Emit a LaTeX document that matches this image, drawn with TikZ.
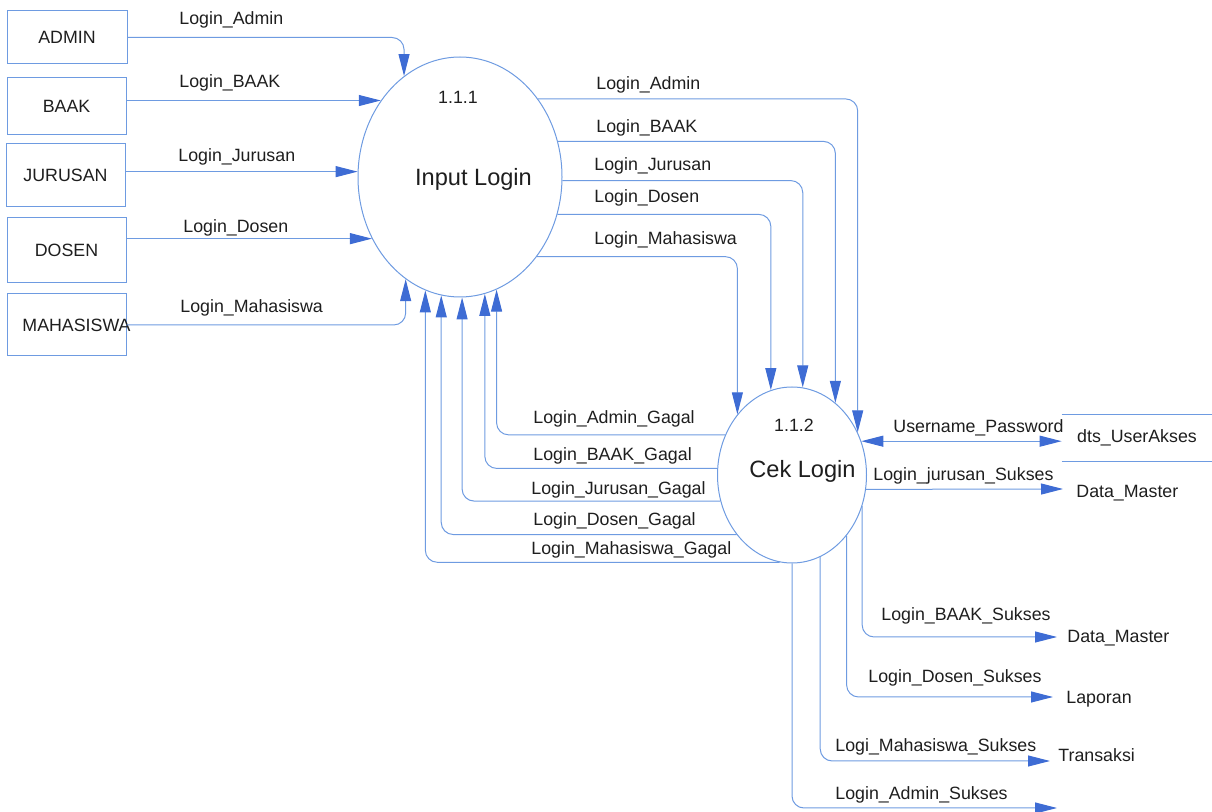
\documentclass[tikz,border=0pt]{standalone}
\usepackage{fontspec}
\setmainfont{Liberation Sans}
\usetikzlibrary{arrows.meta,shapes.geometric}
\definecolor{flowline}{RGB}{110,155,225}
\definecolor{flowtip}{RGB}{62,108,212}
\definecolor{inktext}{RGB}{30,30,30}
\begin{document}
\begin{tikzpicture}[x=0.5pt,y=-0.5pt,
  every node/.style={text=inktext, font=\fontsize{8.9pt}{10pt}\selectfont},
  entity/.style={draw=flowline, line width=0.5pt, rectangle, inner sep=0pt},
  proc/.style={draw=flowline, line width=0.5pt, ellipse, inner sep=0pt},
  lbl/.style={anchor=west, inner sep=0pt},
  ptext/.style={inner sep=0pt, font=\fontsize{11.8pt}{14pt}\selectfont},
  flow/.style={draw=flowline, line width=0.5pt, rounded corners=6pt, -{Triangle[length=11pt,width=5.5pt,color=flowtip]}},
  bflow/.style={draw=flowline, line width=0.5pt, {Triangle[length=11pt,width=5.5pt,color=flowtip]}-{Triangle[length=11pt,width=5.5pt,color=flowtip]}},
  storeline/.style={draw=flowline, line width=0.5pt},
]
\useasboundingbox (0,0) rectangle (1212,812);

% external entities
\node[entity, minimum width=60pt, minimum height=26.5pt] (admin) at (67,37.5) {ADMIN};
\node[entity, minimum width=59.5pt, minimum height=28.5pt] (baak) at (66.5,106.5) {BAAK};
\node[entity, minimum width=59.5pt, minimum height=31.5pt] (jur) at (65.5,175.5) {JURUSAN};
\node[entity, minimum width=59.5pt, minimum height=32.5pt] (dos) at (66.5,250.5) {DOSEN};
\node[entity, minimum width=59.5pt, minimum height=31pt,
      label={[xshift=5pt, inner sep=0pt]center:MAHASISWA}] (mhs) at (66.5,325) {};

% processes
\node[proc, minimum width=102pt, minimum height=120pt] (il) at (460,177) {};
\node[ptext, font=\fontsize{8.9pt}{10pt}\selectfont] (ilnum) at (458,97.5) {1.1.1};
\node[ptext] (ilname) at (473.5,179) {Input Login};

\node[proc, minimum width=74.5pt, minimum height=88pt] (cek) at (792,475) {};
\node[ptext, font=\fontsize{8.9pt}{10pt}\selectfont] (ceknum) at (794,425) {1.1.2};
\node[ptext] (cekname) at (802.5,471.5) {Cek Login};

% data store and destinations
\node[inner sep=0pt, minimum width=75pt, minimum height=23pt] (ua) at (1137,438) {dts\_UserAkses};
\draw[storeline] (ua.north west) -- (ua.north east);
\draw[storeline] (ua.south west) -- (ua.south east);
\node[lbl] (dm1) at (1076,493.5) {Data\_Master};
\node[lbl] (dm2) at (1067,638.5) {Data\_Master};
\node[lbl] (lap) at (1066,699.5) {Laporan};
\node[lbl] (trx) at (1058,755.5) {Transaksi};

\coordinate (tipJur) at (1063,489);
\coordinate (tipBaak) at (1057,637);
\coordinate (tipDos) at (1053,697);
\coordinate (tipMhs) at (1050,761);
\coordinate (tipAdm) at (1057,808);

% entities -> Input Login
\draw[flow] (admin.east) -| (il.119.8);
\draw[flow] (il.136.7 -| baak.east) -- (il.136.7);
\draw[flow] (il.177.8 -| jur.east) -- (il.177.8);
\draw[flow] (il.215.4 -| dos.east) -- (il.215.4);
\draw[flow] (mhs.east) -| (il.242.05);

\node[lbl] at (179,19.5) {Login\_Admin};
\node[lbl] at (179,83) {Login\_BAAK};
\node[lbl] at (178,156.5) {Login\_Jurusan};
\node[lbl] at (183,227.5) {Login\_Dosen};
\node[lbl] at (180,308) {Login\_Mahasiswa};

% Input Login -> Cek Login
\draw[flow] (il.45.8) -| (cek.33.5);
\draw[flow] (il.20.3) -| (cek.59.1);
\draw[flow] (il.358.3) -| (cek.83.5);
\draw[flow] (il.339.1) -| (cek.104.7);
\draw[flow] (il.314.8) -| (cek.132.8);

\node[lbl] at (596,84.5) {Login\_Admin};
\node[lbl] at (596,127.5) {Login\_BAAK};
\node[lbl] at (594,166) {Login\_Jurusan};
\node[lbl] at (594,197.5) {Login\_Dosen};
\node[lbl] at (594,240) {Login\_Mahasiswa};

% Cek Login -> Input Login (failed logins)
\draw[flow] (cek.149.7) -| (il.288.3);
\draw[flow] (cek.175.4) -| (il.282.1);
\draw[flow] (cek.200.06) -| (il.271.9);
\draw[flow] (cek.227.75) -| (il.261.3);
\draw[flow] (cek.262.6) -| (il.253.8);

\node[lbl] at (533,419) {Login\_Admin\_Gagal};
\node[lbl] at (533,456) {Login\_BAAK\_Gagal};
\node[lbl] at (531,489.5) {Login\_Jurusan\_Gagal};
\node[lbl] at (533,521) {Login\_Dosen\_Gagal};
\node[lbl] at (531,549.5) {Login\_Mahasiswa\_Gagal};

% Cek Login <-> user access store
\draw[bflow] (cek.26.3) -- (cek.26.3 -| ua.west);
\node[lbl] at (893,428) {Username\_Password};

% successful logins
\draw[flow] (cek.349.2) -- (tipJur);
\draw[flow] (cek.336.7) |- (tipBaak);
\draw[flow] (cek.312.8) |- (tipDos);
\draw[flow] (cek.289.7) |- (tipMhs);
\draw[flow] (cek.270) |- (tipAdm);

\node[lbl] at (873,476) {Login\_jurusan\_Sukses};
\node[lbl] at (881,616) {Login\_BAAK\_Sukses};
\node[lbl] at (868,677.5) {Login\_Dosen\_Sukses};
\node[lbl] at (835,747) {Logi\_Mahasiswa\_Sukses};
\node[lbl] at (835,795) {Login\_Admin\_Sukses};
\end{tikzpicture}
\end{document}
